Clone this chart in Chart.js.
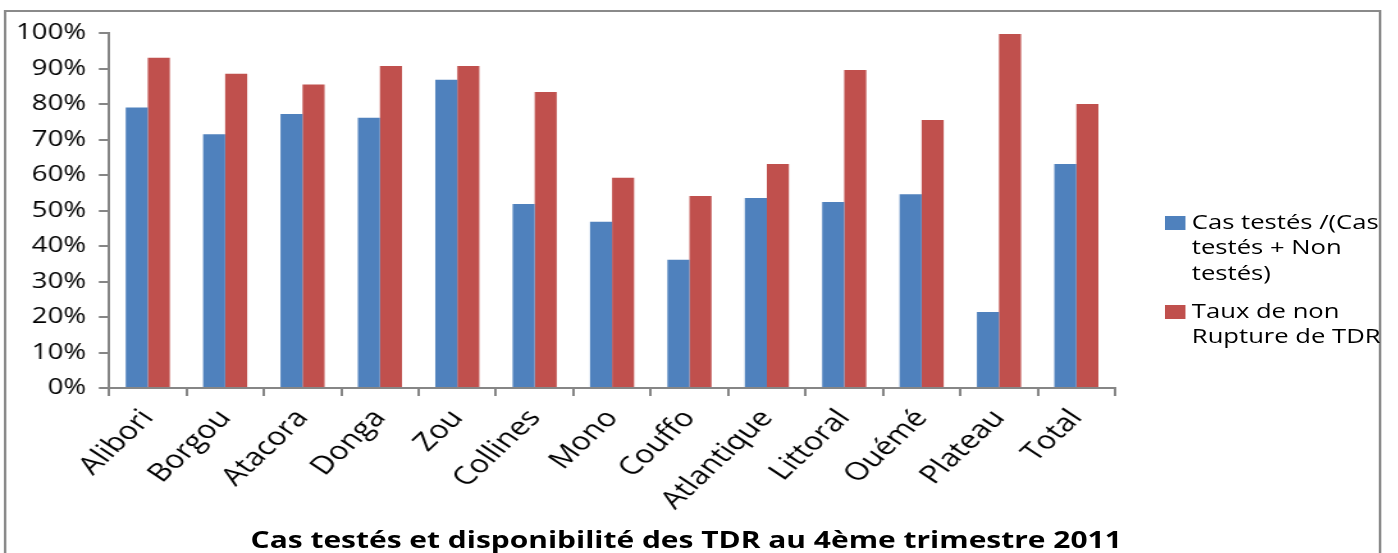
<!DOCTYPE html>
<html>
<head>
<meta charset="utf-8">
<script src="https://cdn.jsdelivr.net/npm/chart.js@4/dist/chart.umd.min.js"></script>
<style>
    html, body { margin: 0; padding: 0; background: #fff; overflow: hidden; }
    /* the source image is stretched horizontally, so the whole stage is too */
    #stage { position: absolute; left: 0; top: 0; width: 1092px; height: 553px; transform: scaleX(1.2802); transform-origin: 0 0; font-family: 'Open Sans', sans-serif; color: #000; }
    #frame { position: absolute; left: 3.2px; top: 10px; width: 1071.7px; height: 600px; border: 2px solid #8a8a8a; }
    #chartCanvas { position: absolute; left: 0; top: 0; }
    #legend { position: absolute; left: 905px; top: 0; width: 172.5px; height: 553px; overflow: hidden; font-size: 20px; line-height: 25.5px; white-space: nowrap; }
    .legend-item { position: absolute; left: 0; }
    .legend-box { position: absolute; left: 5px; width: 15.6px; height: 14px; }
    .legend-text { position: absolute; left: 26px; }
    #chartTitle { position: absolute; left: 0; top: 527.7px; width: 1072px; text-align: center; font-size: 23.4px; line-height: 23.4px; font-weight: bold; white-space: nowrap; }
</style>
</head>
<body>
<div id="stage">
    <div id="frame"></div>
    <canvas id="chartCanvas" width="1092" height="553"></canvas>
    <div id="legend"></div>
    <div id="chartTitle"></div>
</div>
<script>
const categories = ['Alibori', 'Borgou', 'Atacora', 'Donga', 'Zou', 'Collines', 'Mono', 'Couffo', 'Atlantique', 'Littoral', 'Ouémé', 'Plateau', 'Total'];
const casTestes = [79.0, 71.5, 77.2, 76.1, 86.8, 51.8, 46.8, 36.1, 53.5, 52.4, 54.6, 21.4, 63.1];
const nonRupture = [93.0, 88.5, 85.5, 90.7, 90.7, 83.4, 59.2, 54.1, 63.1, 89.6, 75.5, 99.7, 80.0];
const seriesLines = [['Cas testés /(Cas', 'testés + Non', 'testés)'], ['Taux de non', 'Rupture de TDR']];
const seriesColors = ['#4F81BD', '#C0504D'];
const titleText = 'Cas testés et disponibilité des TDR au 4ème trimestre 2011';

const axisColor = '#868686';

function renderChart() {
    const ctx = document.getElementById('chartCanvas').getContext('2d');
    new Chart(ctx, {
        type: 'bar',
        data: {
            labels: categories,
            datasets: [
                { label: seriesLines[0].join(' '), data: casTestes, backgroundColor: seriesColors[0], borderWidth: 0 },
                { label: seriesLines[1].join(' '), data: nonRupture, backgroundColor: seriesColors[1], borderWidth: 0 }
            ]
        },
        options: {
            responsive: false, animation: false,
            categoryPercentage: 0.57, barPercentage: 1,
            layout: { padding: { top: 33, right: 221, bottom: 0, left: 0 } },
            plugins: { legend: { display: false }, title: { display: false }, tooltip: { enabled: false } },
            scales: {
                x: {
                    afterFit: s => { s.height = 165; },
                    grid: { drawOnChartArea: false, drawTicks: true, tickLength: 8, color: axisColor, lineWidth: 2 },
                    border: { color: axisColor, width: 2 },
                    ticks: { autoSkip: false, minRotation: 50, maxRotation: 50, padding: 8, color: '#000', font: { family: 'Open Sans', size: 25 } }
                },
                y: {
                    min: 0, max: 100,
                    afterFit: s => { s.width = 85.2; },
                    grid: { drawOnChartArea: false, drawTicks: true, tickLength: 8, color: axisColor, lineWidth: 2 },
                    border: { color: axisColor, width: 2 },
                    ticks: { stepSize: 10, padding: 10, color: '#000', font: { family: 'Open Sans', size: 21.5 }, callback: v => v + '%' }
                }
            }
        }
    });
}

function renderLegend() {
    const legend = document.getElementById('legend');
    const tops = [208.8, 297.8];
    legend.innerHTML = seriesLines.map((lines, i) => `
        <div class="legend-item" style="top:${tops[i]}px;">
            <div class="legend-box" style="top:7px; background:${seriesColors[i]};"></div>
            <div class="legend-text">${lines.join('<br>')}</div>
        </div>
    `).join('');
}

document.getElementById('chartTitle').textContent = titleText;
renderLegend();
renderChart();
</script>
</body>
</html>
